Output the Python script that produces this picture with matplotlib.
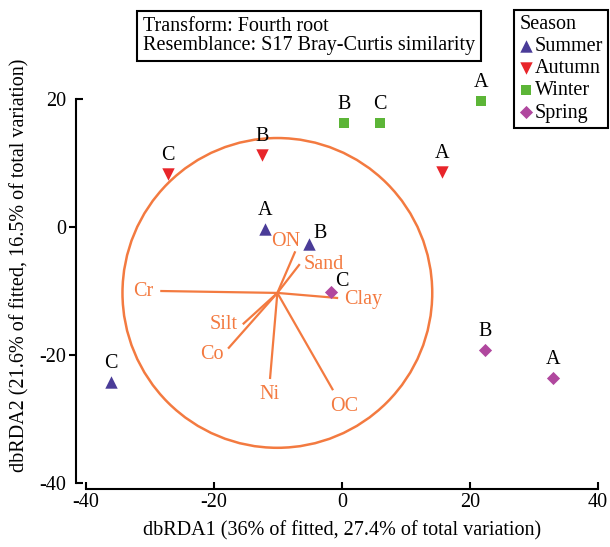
import matplotlib
matplotlib.use('Agg')
import matplotlib.pyplot as plt
from matplotlib.patches import Circle

plt.rcParams['font.family'] = ['Liberation Serif', 'DejaVu Serif']
plt.rcParams['axes.unicode_minus'] = False

# season scores (dbRDA1, dbRDA2) and site letters
summer_x = [-12.0, -5.2, -36.1]
summer_y = [-0.3, -2.7, -24.2]
summer_sites = ['A', 'B', 'C']

autumn_x = [15.6, -12.5, -27.2]
autumn_y = [8.6, 11.3, 8.3]
autumn_sites = ['A', 'B', 'C']

winter_x = [21.7, 0.3, 5.9]
winter_y = [19.7, 16.3, 16.3]
winter_sites = ['A', 'B', 'C']

spring_x = [33.0, 22.3, -1.7]
spring_y = [-23.6, -19.2, -10.2]
spring_sites = ['A', 'B', 'C']

# environmental vectors
vec_names = ['Cr', 'ON', 'Sand', 'Clay', 'OC', 'Ni', 'Co', 'Silt']
vec_x = [-28.4, -7.3, -6.6, -0.6, -1.4, -11.25, -17.8, -15.5]
vec_y = [-10.0, -3.8, -5.8, -11.1, -25.5, -23.75, -19.0, -15.2]
origin = (-10.1, -10.3)
circle_r = 24.2

orange = '#F37A40'
fs = 14.5

fig = plt.figure(figsize=(6.1, 5.47), dpi=100)
ax = fig.add_axes([86 / 610, 1 - 483 / 547, 512 / 610, 473 / 547])
ax.set_xlim(-40, 40)
ax.set_ylim(-40, -40 + 473 / 6.4)

# circle and vectors
ax.add_patch(Circle(origin, circle_r, fill=False, edgecolor=orange, lw=1.8))
for x, y in zip(vec_x, vec_y):
    ax.plot([origin[0], x], [origin[1], y], color=orange, lw=1.6, solid_capstyle='butt')

vec_offsets = {'Cr': (-5, 0, 'right'), 'ON': (-7, 7, 'center'), 'Sand': (3, 0, 'left'),
               'Clay': (4, -1, 'left'), 'OC': (8, -12, 'center'), 'Ni': (0, -11, 'center'),
               'Co': (-12, -4, 'center'), 'Silt': (-4, 0, 'right')}
for name, x, y in zip(vec_names, vec_x, vec_y):
    dx, dy, ha = vec_offsets[name]
    ax.annotate(name, (x, y), xytext=(dx, dy), textcoords='offset points',
                ha=ha, va='center', color=orange, fontsize=fs)

# season points
groups = [
    ('Summer', summer_x, summer_y, summer_sites, '^', '#4A3C98', 80),
    ('Autumn', autumn_x, autumn_y, autumn_sites, 'v', '#E8252A', 80),
    ('Winter', winter_x, winter_y, winter_sites, 's', '#5CB537', 60),
    ('Spring', spring_x, spring_y, spring_sites, 'D', '#B0479E', 45),
]
handles = []
for name, xs, ys, sites, m, c, s in groups:
    h = ax.scatter(xs, ys, marker=m, color=c, s=s, label=name, zorder=3, linewidths=0)
    handles.append(h)
    for x, y, lab in zip(xs, ys, sites):
        off = (0, 13)
        if (name == 'Summer' and lab == 'B') or (name == 'Spring' and lab == 'C'):
            off = (8, 8)
        ax.annotate(lab, (x, y), xytext=off, textcoords='offset points',
                    ha='center', va='center', fontsize=fs)

# axes styling
for side in ['top', 'right']:
    ax.spines[side].set_visible(False)
ax.spines['left'].set_position(('outward', 7))
ax.spines['bottom'].set_position(('outward', 4.5))
ax.spines['left'].set_bounds(-40, 20)
ax.spines['bottom'].set_bounds(-40, 40)
ax.spines['left'].set_linewidth(1.5)
ax.spines['bottom'].set_linewidth(1.5)

ax.set_xticks([-40, -20, 0, 20, 40])
ax.tick_params(axis='x', direction='in', length=5, width=1.5, labelsize=fs, pad=3)
ax.set_yticks([-20, 0])
ax.set_yticks([-40, 20], labels=['-40', '20'], minor=True)
ax.tick_params(axis='y', which='major', direction='out', length=5, width=1.5, labelsize=fs, pad=2)
ax.tick_params(axis='y', which='minor', direction='in', length=5, width=1.5, labelsize=fs, pad=7)

ax.set_xlabel('dbRDA1 (36% of fitted, 27.4% of total variation)', fontsize=fs, labelpad=6)
fig.text(20 / 610, 1 - 265 / 547, 'dbRDA2 (21.6% of fitted, 16.5% of total variation)',
         rotation=90, ha='center', va='center', fontsize=fs)

fig.text(143 / 610, 1 - 36 / 547, 'Transform: Fourth root\nResemblance: S17 Bray-Curtis similarity',
         ha='left', va='center', multialignment='left', fontsize=fs, linespacing=1.0,
         bbox=dict(boxstyle='square,pad=0.3', facecolor='white', edgecolor='black', lw=1.5))

leg = fig.legend(handles=handles, title='Season', loc='upper right',
                 bbox_to_anchor=(608 / 610, 1 - 10 / 547), fontsize=fs, title_fontsize=fs,
                 handlelength=0.6, handletextpad=0.15, borderpad=0.25, labelspacing=0.15,
                 borderaxespad=0, fancybox=False, edgecolor='black', framealpha=1,
                 alignment='left', scatterpoints=1)
leg.get_frame().set_linewidth(1.5)

fig.savefig('out.png', dpi=100)
